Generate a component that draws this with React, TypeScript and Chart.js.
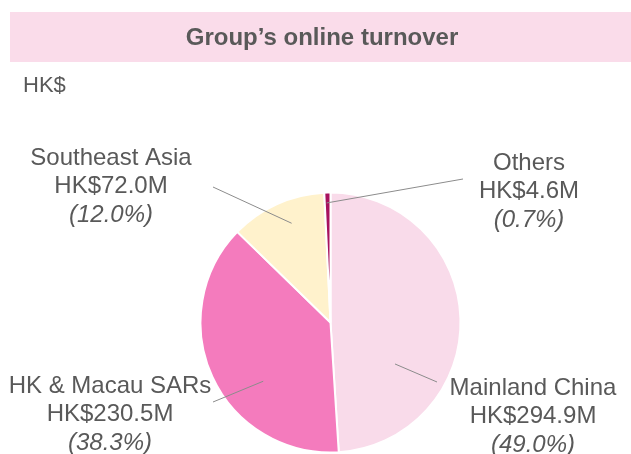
import React, { useEffect, useRef } from "react";
import { Chart, registerables } from "chart.js";

Chart.register(...registerables);

const categories = ["Mainland China", "HK & Macau SARs", "Southeast Asia", "Others"];
const valuesM = [294.9, 230.5, 72.0, 4.6];
const percentLabels = ["49.0%", "38.3%", "12.0%", "0.7%"];
const sliceColors = ["#F9DBEA", "#F47BBD", "#FFF2CC", "#A8125D"];

const title = "Group\u2019s online turnover";
const unitLabel = "HK$";

// label layout (text center + leader-line ends), in canvas pixels / slice-relative polar
const labelLayout = [
  { tx: 533, ty: 388, ox: 437, oy: 382, t: 0.696, r: 0.59 },
  { tx: 110, ty: 386, ox: 213, oy: 402, t: 0.381, r: 0.687 },
  { tx: 111, ty: 158, ox: 213, oy: 187, t: 0.567, r: 0.82 },
  { tx: 529, ty: 163, ox: 463, oy: 179, t: 0.32, r: 0.92 },
];

const TEXT = "#595959";
const FONT = "'Liberation Sans', Arial, sans-serif";

const decorPlugin = {
  id: "decor",
  beforeDraw(chart: any) {
    const ctx = chart.ctx;
    ctx.save();
    ctx.fillStyle = "#FADCEA";
    ctx.fillRect(10, 12, 621, 50);
    ctx.fillStyle = TEXT;
    ctx.font = `bold 24px ${FONT}`;
    ctx.textAlign = "center";
    ctx.textBaseline = "middle";
    ctx.fillText(title, 322, 38);
    ctx.font = `22px ${FONT}`;
    ctx.textAlign = "left";
    ctx.fillText(unitLabel, 23, 86);
    ctx.restore();
  },
  afterDraw(chart: any) {
    const ctx = chart.ctx;
    const meta = chart.getDatasetMeta(0);
    ctx.save();
    meta.data.forEach((arc: any, i: number) => {
      const L = labelLayout[i];
      const p = arc.getProps(["x", "y", "startAngle", "endAngle", "outerRadius"], true);
      const ang = p.startAngle + (p.endAngle - p.startAngle) * L.t;
      const ix = p.x + Math.cos(ang) * p.outerRadius * L.r;
      const iy = p.y + Math.sin(ang) * p.outerRadius * L.r;
      ctx.strokeStyle = "#8C8C8C";
      ctx.lineWidth = 1;
      ctx.beginPath();
      ctx.moveTo(ix, iy);
      ctx.lineTo(L.ox, L.oy);
      ctx.stroke();
      ctx.fillStyle = TEXT;
      ctx.textAlign = "center";
      ctx.textBaseline = "middle";
      ctx.font = `24px ${FONT}`;
      ctx.fillText(categories[i], L.tx, L.ty);
      ctx.fillText(`HK$${valuesM[i].toFixed(1)}M`, L.tx, L.ty + 28.5);
      ctx.font = `italic 24px ${FONT}`;
      ctx.fillText(`(${percentLabels[i]})`, L.tx, L.ty + 57);
    });
    ctx.restore();
  },
};

export default function App() {
  const ref = useRef<HTMLCanvasElement>(null);
  useEffect(() => {
    document.body.style.margin = "0";
    const chart = new Chart(ref.current as HTMLCanvasElement, {
      type: "pie",
      data: {
        labels: categories,
        datasets: [
          {
            data: valuesM,
            backgroundColor: sliceColors,
            borderColor: "#FFFFFF",
            borderWidth: 2,
          },
        ],
      },
      options: {
        responsive: false,
        animation: false,
        devicePixelRatio: 1,
        radius: 130,
        layout: { padding: { left: 30, right: 0, top: 191, bottom: 0 } },
        plugins: {
          legend: { display: false },
          tooltip: { enabled: false },
          title: { display: false },
        },
      } as any,
      plugins: [decorPlugin],
    });
    return () => chart.destroy();
  }, []);
  return (
    <div style={{ position: "absolute", left: 0, top: 0, width: 631, height: 454, background: "#fff" }}>
      <canvas ref={ref} width={631} height={454} style={{ display: "block", width: 631, height: 454 }} />
    </div>
  );
}
